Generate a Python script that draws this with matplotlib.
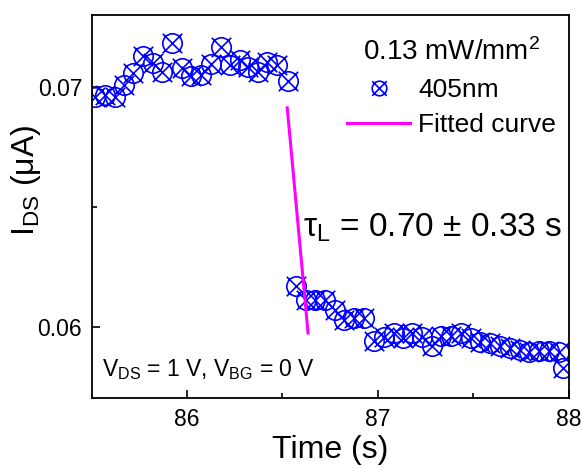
import matplotlib
matplotlib.use("Agg")
import matplotlib.pyplot as plt
import numpy as np
from matplotlib.path import Path

plt.rcParams["font.family"] = ["Liberation Sans", "DejaVu Sans"]
plt.rcParams["mathtext.fontset"] = "custom"
plt.rcParams["mathtext.rm"] = "Liberation Sans"
plt.rcParams["mathtext.it"] = "Liberation Sans:italic"

# photocurrent before switching the light off
t_on = [85.521, 85.573, 85.625, 85.672, 85.719, 85.771, 85.823, 85.870, 85.922, 85.974,
        86.021, 86.073, 86.125, 86.177, 86.224, 86.276, 86.323, 86.375, 86.422, 86.474,
        86.531]
i_on = [0.06958, 0.06967, 0.06958, 0.07008, 0.07058, 0.07129, 0.07100, 0.07063, 0.07183, 0.07079,
        0.07046, 0.07050, 0.07096, 0.07167, 0.07092, 0.07113, 0.07083, 0.07063, 0.07104, 0.07092,
        0.07025]

# after switching off
t_off = [86.573, 86.625, 86.672, 86.724, 86.776, 86.823, 86.875, 86.927, 86.979, 87.031,
         87.083, 87.135, 87.182, 87.234, 87.286, 87.333, 87.385, 87.437, 87.489, 87.536,
         87.589, 87.641, 87.693, 87.745, 87.792, 87.844, 87.896, 87.948, 87.969]
i_off = [0.06171, 0.06113, 0.06113, 0.06113, 0.06071, 0.06029, 0.06038, 0.06038, 0.05942, 0.05958,
         0.05975, 0.05954, 0.05975, 0.05958, 0.05921, 0.05963, 0.05963, 0.05975, 0.05954, 0.05938,
         0.05933, 0.05921, 0.05913, 0.05904, 0.05896, 0.05900, 0.05900, 0.05896, 0.05829]

fit_t = [86.526, 86.635]
fit_i = [0.06913, 0.05975]

t = np.array(t_on + t_off)
current = np.array(i_on + i_off)

# circle with a cross through it, cross tips poking out a little
circ = Path.unit_circle()
d = 1.0
verts = np.concatenate([circ.vertices, [[-d, -d], [d, d], [-d, d], [d, -d]]])
codes = np.concatenate([circ.codes, [Path.MOVETO, Path.LINETO, Path.MOVETO, Path.LINETO]])
otimes = Path(verts, codes)

fig = plt.figure(figsize=(5.82, 4.68), dpi=100)
ax = fig.add_axes([0.158, 0.1496, 0.819, 0.8184])

ax.plot(t, current, ls="none", marker=otimes, ms=14, mfc="none", mec="#0000ff",
        mew=1.2, label="405nm")
ax.plot(fit_t, fit_i, color="#ff00ff", lw=2.2, label="Fitted curve")

ax.set_xlim(85.503, 88.0)
ax.set_ylim(0.05704, 0.07300)
ax.set_xticks([86, 87, 88])
ax.set_xticks([86.5, 87.5], minor=True)
ax.set_yticks([0.06, 0.07])
ax.set_yticklabels(["0.06", "0.07"])
ax.set_yticks([0.065], minor=True)
ax.tick_params(which="both", direction="in", labelsize=16.5, width=1.2)
ax.tick_params(which="major", length=6, pad=7)
ax.tick_params(which="minor", length=3.5)
for s in ax.spines.values():
    s.set_linewidth(1.3)

ax.set_xlabel("Time (s)", fontsize=23, labelpad=3)
ax.set_ylabel(r"$\mathrm{I_{DS}}$ (μA)", fontsize=23)
ax.yaxis.set_label_coords(-0.103, 0.567)

leg = ax.legend(title="0.13 mW/mm$^2$", loc="upper right", bbox_to_anchor=(0.974, 0.94),
                frameon=False, fontsize=19, title_fontsize=20, markerscale=0.75,
                handlelength=2.4, handletextpad=0.3, labelspacing=0.4, borderaxespad=0,
                borderpad=0)
leg._legend_box.sep = 9

ax.text(86.608, 0.06375, "τ$_\\mathrm{L}$ = 0.70 ± 0.33 s", fontsize=24, va="baseline")
ax.text(0.021, 0.0574, r"V$_\mathrm{DS}$ = 1 V, V$_\mathrm{BG}$ = 0 V", fontsize=16.5,
        transform=ax.transAxes, va="baseline")

fig.savefig("out.png", dpi=100)
